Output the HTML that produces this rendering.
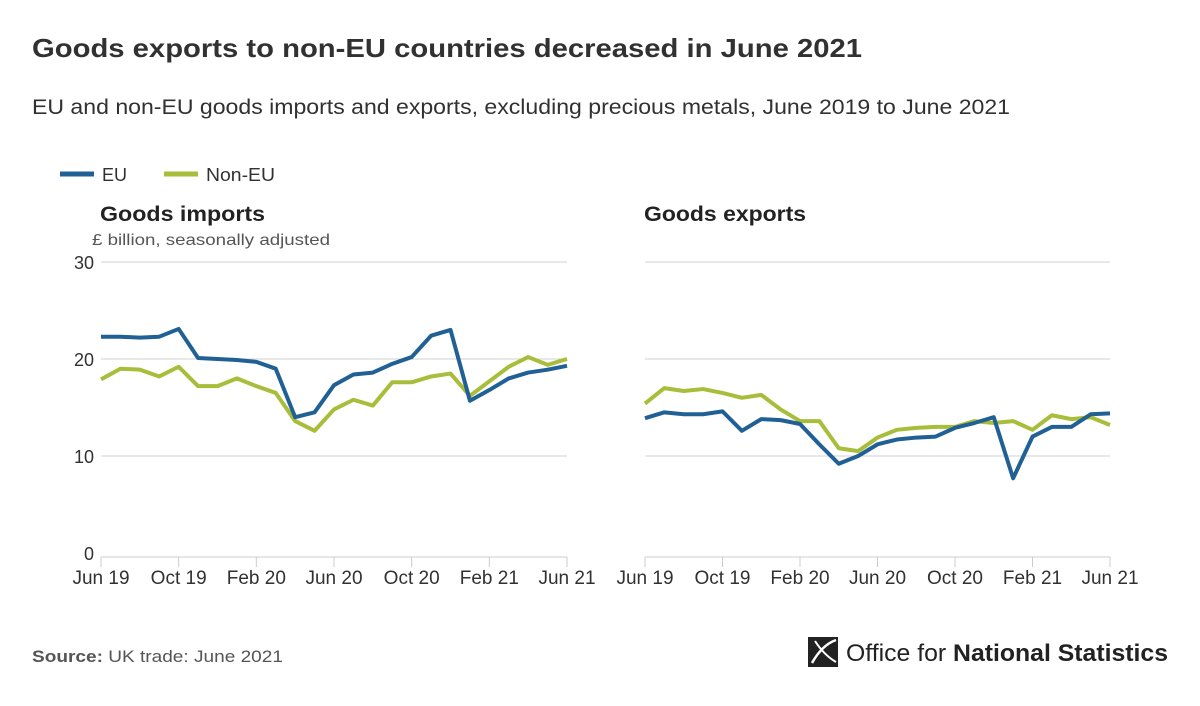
<!DOCTYPE html>
<html><head><meta charset="utf-8"><style>
body{margin:0;background:#fff;font-family:"Liberation Sans",sans-serif;color:#323132}
svg text{font-family:"Liberation Sans",sans-serif}
</style></head><body>
<svg width="1200" height="701" viewBox="0 0 1200 701" xmlns="http://www.w3.org/2000/svg">
<text x="32" y="57" font-size="26" font-weight="bold" fill="#323132" textLength="830" lengthAdjust="spacingAndGlyphs">Goods exports to non-EU countries decreased in June 2021</text>
<text x="32" y="114" font-size="21" fill="#323132" textLength="978" lengthAdjust="spacingAndGlyphs">EU and non-EU goods imports and exports, excluding precious metals, June 2019 to June 2021</text>
<g>
<line x1="60" y1="174" x2="94" y2="174" stroke="#206095" stroke-width="5"/>
<text x="102" y="181" font-size="18" fill="#323132">EU</text>
<line x1="164" y1="174" x2="198" y2="174" stroke="#a8bd3a" stroke-width="5"/>
<text x="206" y="181" font-size="18" fill="#323132" textLength="69" lengthAdjust="spacingAndGlyphs">Non-EU</text>
</g>
<text x="100" y="221" font-size="21" font-weight="bold" fill="#222" textLength="165" lengthAdjust="spacingAndGlyphs">Goods imports</text>
<text x="92" y="245" font-size="16" fill="#555" textLength="238" lengthAdjust="spacingAndGlyphs">£ billion, seasonally adjusted</text>
<text x="644" y="221" font-size="21" font-weight="bold" fill="#222" textLength="162" lengthAdjust="spacingAndGlyphs">Goods exports</text>
<g id="p1"></g><g id="p2"></g>
<text x="32" y="662" font-size="17" fill="#555" textLength="251" lengthAdjust="spacingAndGlyphs"><tspan font-weight="bold">Source:</tspan> UK trade: June 2021</text>
<g>
<rect x="808" y="637" width="30" height="30" fill="#222"/>
<path d="M812 663 Q822 645 836 640" stroke="#fff" stroke-width="2.5" fill="none"/>
<path d="M815 641 Q824 655 836 662" stroke="#fff" stroke-width="2" fill="none"/>
<text x="846" y="661" font-size="24" fill="#222" textLength="322" lengthAdjust="spacingAndGlyphs">Office for <tspan font-weight="bold">National Statistics</tspan></text>
</g>
</svg>
<script>
const months = ["Jun 19","Jul 19","Aug 19","Sep 19","Oct 19","Nov 19","Dec 19","Jan 20","Feb 20","Mar 20","Apr 20","May 20","Jun 20","Jul 20","Aug 20","Sep 20","Oct 20","Nov 20","Dec 20","Jan 21","Feb 21","Mar 21","Apr 21","May 21","Jun 21"];
const tickLabels = ["Jun 19","Oct 19","Feb 20","Jun 20","Oct 20","Feb 21","Jun 21"];
const yTicks = [0,10,20,30];
const importsEU = [22.3,22.3,22.2,22.3,23.1,20.1,20.0,19.9,19.7,19.0,14.0,14.5,17.3,18.4,18.6,19.5,20.2,22.4,23.0,15.7,16.8,18.0,18.6,18.9,19.3];
const importsNonEU = [17.9,19.0,18.9,18.2,19.2,17.2,17.2,18.0,17.2,16.5,13.6,12.6,14.8,15.8,15.2,17.6,17.6,18.2,18.5,16.2,17.7,19.2,20.2,19.4,20.0];
const exportsEU = [13.9,14.5,14.3,14.3,14.6,12.6,13.8,13.7,13.3,11.2,9.2,10.0,11.2,11.7,11.9,12.0,12.9,13.4,14.0,7.7,12.0,13.0,13.0,14.3,14.4];
const exportsNonEU = [15.4,17.0,16.7,16.9,16.5,16.0,16.3,14.8,13.6,13.6,10.8,10.5,11.9,12.7,12.9,13.0,13.0,13.6,13.4,13.6,12.7,14.2,13.8,14.0,13.2];
const NS="http://www.w3.org/2000/svg";
function mk(t,a){const e=document.createElementNS(NS,t);for(const k in a)e.setAttribute(k,a[k]);return e;}
function panel(g,x0,x1,showY,eu,non,prefix){
  const y=v=>553-v*9.7;
  const x=i=>x0+(x1-x0)*i/(months.length-1);
  yTicks.forEach(v=>{
    if(v>0){const l=mk('line',{x1:x0,x2:x1,y1:y(v),y2:y(v),stroke:'#d0d0d0','stroke-width':1});
    
    g.appendChild(l);}
    if(showY){const t=mk('text',{x:x0-7,y:y(v)+7,'font-size':18,'text-anchor':'end',fill:'#323132'});t.textContent=v;
    
    g.appendChild(t);}
  });
  const ax=mk('line',{x1:x0,x2:x1,y1:557,y2:557,stroke:'#ccc','stroke-width':1});
  
  g.appendChild(ax);
  tickLabels.forEach(lbl=>{const i=months.indexOf(lbl);
    const tk=mk('line',{x1:x(i),x2:x(i),y1:557,y2:567,stroke:'#ccc'});
    
    g.appendChild(tk);
    const t=mk('text',{x:x(i),y:584,'font-size':19,'text-anchor':'middle',fill:'#323132'});t.textContent=lbl;
    
    g.appendChild(t);});
  [[non,'#a8bd3a','noneu'],[eu,'#206095','eu']].forEach(([d,c,n])=>{
    const p=mk('polyline',{points:d.map((v,i)=>x(i)+','+y(v)).join(' '),fill:'none',stroke:c,'stroke-width':4,'stroke-linejoin':'round'});
    
    g.appendChild(p);});
}
panel(document.getElementById('p1'),101,567,true,importsEU,importsNonEU,'imports');
panel(document.getElementById('p2'),645,1110,false,exportsEU,exportsNonEU,'exports');
</script>
</body></html>
